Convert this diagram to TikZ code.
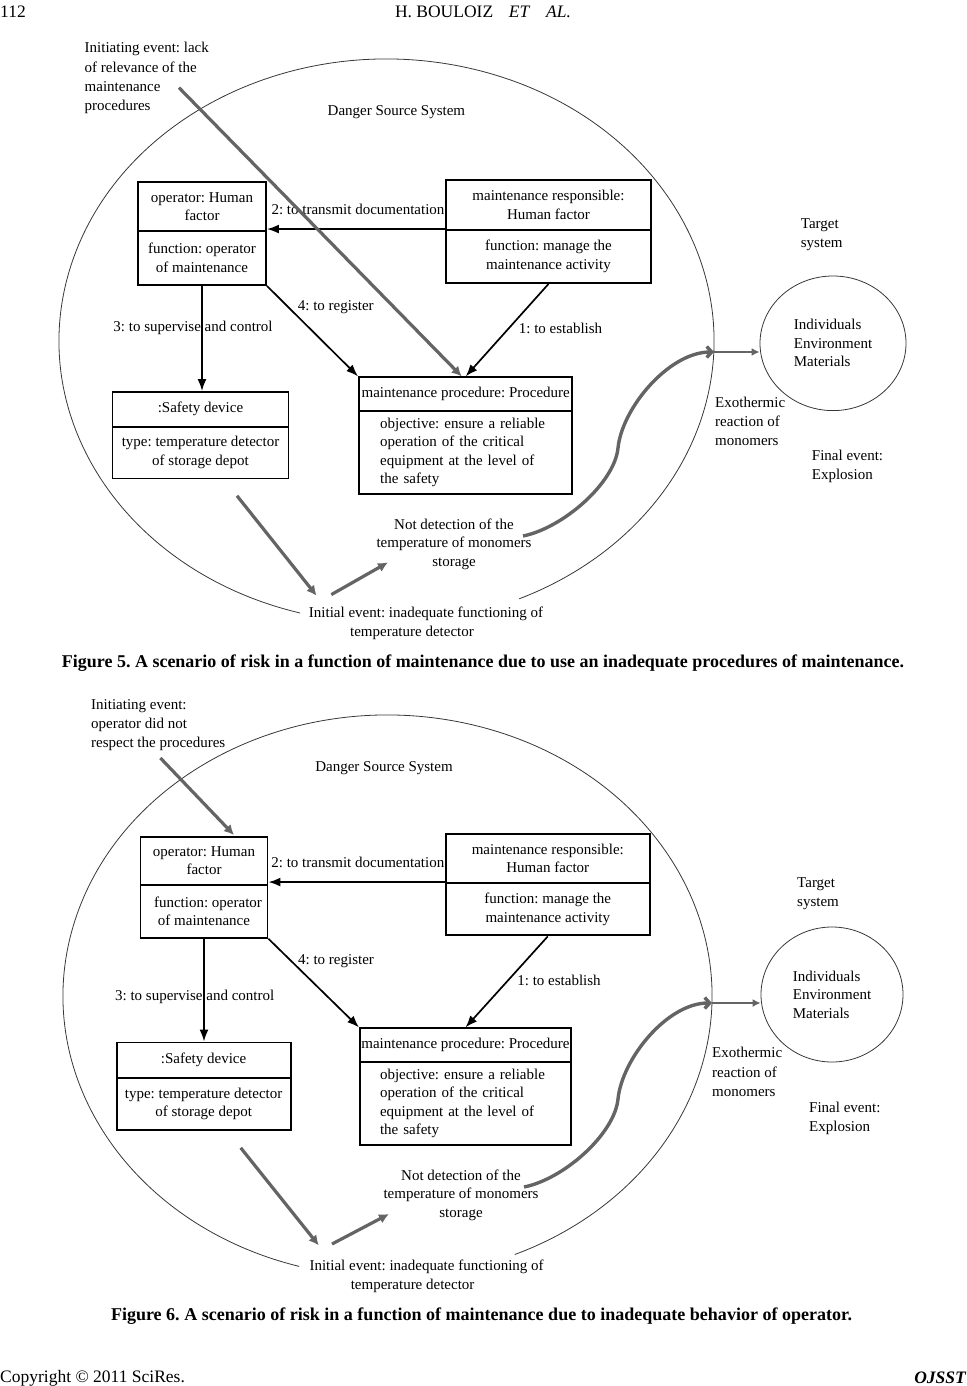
\documentclass[tikz,border=0pt]{standalone}
\usepackage{fontspec}
\usepackage{graphicx}
\setmainfont{Liberation Serif}
\usetikzlibrary{arrows.meta,shapes.geometric}
\definecolor{arrgray}{RGB}{100,100,100}
\definecolor{ellgray}{RGB}{55,55,55}
\newcommand\fsz{\fontsize{15}{18.5}\selectfont}
\newcommand\fszi{\fontsize{15}{19.2}\selectfont}
\newcommand\fszh{\fontsize{17.5}{20}\selectfont}
\frenchspacing
\begin{document}
\frenchspacing
\begin{tikzpicture}[x=1pt,y=-1pt,
  box/.style={draw, line width=1.9pt, inner sep=0pt, align=center, font=\fsz},
  lab/.style={inner sep=0pt, font=\fsz, text height=10pt, text depth=3pt},
  mtxt/.style={inner sep=0pt, font=\fszi, align=left, anchor=west},
  ctxt/.style={inner sep=0pt, font=\fsz, align=center},
  blk/.style={line width=1.7pt, -{Latex[length=12pt,width=9pt]}},
  gry/.style={draw=arrgray, line width=3.2pt, -{Latex[length=10pt,width=10pt]}},
  gryc/.style={draw=arrgray, line width=3.4pt, -{Straight Barb[length=5pt,width=11pt]}},
  gryt/.style={draw=arrgray, line width=2.6pt, -{Latex[length=8pt,width=8pt]}},
  ell/.style={draw=ellgray, line width=0.8pt},
  hdr/.style={inner sep=0pt, font=\fszh}]
\useasboundingbox (0,0) rectangle (966,1386);

% ---------------- header ----------------
\node[hdr, anchor=west] (pgno) at (0,12) {112};
\node[hdr] (head) at (483,12) {H. BOULOIZ\hspace{0.9em}\textit{ET}\hspace{0.9em}\textit{AL.}};

% ================= FIGURE 5 =================
\coordinate (ell5c) at (386.5,341);
\draw[ell] (ell5c) ++(105.3:327.5 and 282) arc[start angle=105.3, end angle=426.1, x radius=327.5, y radius=282];

\node[mtxt] (init5) at (84.5,78) {Initiating event: lack\\of relevance of the\\maintenance\\procedures};
\node[lab] (dss5) at (396.4,112) {Danger Source System};

\node[box, minimum width=128pt, minimum height=49pt] (op5a) at (202,206.5) {operator: Human\\factor};
\node[box, minimum width=128pt, minimum height=54pt] (op5b) at (202,258) {function: operator\\of maintenance};
\node[box, minimum width=205pt, minimum height=50pt] (resp5a) at (548.5,205) {maintenance responsible:\\Human factor};
\node[box, minimum width=205pt, minimum height=53pt] (resp5b) at (548.5,256.5) {function: manage the\\maintenance activity};
\node[box, minimum width=176pt, minimum height=34.6pt] (safe5a) at (200.5,409.3) {:Safety device};
\node[box, minimum width=176pt, minimum height=52pt] (safe5b) at (200.5,452.5) {type: temperature detector\\of storage depot};
\node[box, minimum width=213.4pt, minimum height=33.3pt] (proc5a) at (465.7,394) {maintenance procedure: Procedure};
\node[box, minimum width=213.4pt, minimum height=83.3pt, text width=171pt, align=left] (proc5b) at (465.7,452.4) {objective: ensure a reliable\\operation of the critical\\equipment at the level of\\the safety};

\node[lab] (l2s5) at (358,211) {2: to transmit documentation};
\node[lab] (l4s5) at (335.8,307) {4: to register};
\node[lab] (l3s5) at (193,328) {3: to supervise and control};
\node[lab] (l1s5) at (560.5,330.4) {1: to establish};

\draw[blk] (resp5b.north west) -- (resp5b.north west -| op5b.east);
\draw[blk] (op5b.south) -- (op5b.south |- safe5a.north);
\draw[blk] (op5b.south east) -- (proc5a.north west);
\draw[blk] (resp5b.south) -- (proc5a.north);

\coordinate (i5s) at (179,87.7);
\draw[gry] (i5s) -- ([xshift=-4pt]proc5a.north);

\node[ctxt] (nd5) at (454,544) {Not detection of the\\temperature of monomers\\storage};
\node[ctxt] (ie5) at (426,623.5) {Initial event: inadequate functioning of\\temperature detector\hspace*{28pt}};
\coordinate (g5a) at (237,495.8);
\coordinate (g5b) at (316.6,595.7);
\coordinate (g5c) at (331.3,594.6);
\coordinate (g5d) at (388,562.4);
\draw[gry] (g5a) -- (g5b);
\draw[gry] (g5c) -- (g5d);

\node[ell, ellipse, minimum width=146pt, minimum height=134.6pt, inner sep=0pt, align=left, font=\fsz] (tg5) at (833,343.3) {Individuals\\Environment\\Materials};
\node[mtxt] (ts5) at (800.7,235) {Target\\system};
\node[mtxt] (ex5) at (715,421.3) {Exothermic\\reaction of\\monomers};
\node[mtxt] (fe5) at (811.7,466.3) {Final event:\\Explosion};

\coordinate (c5s) at (523,536);
\coordinate (e5r) at (714,352);
\draw[gryc] (c5s) .. controls (563,528) and (614.5,483) .. (618,448) .. controls (622,408) and (669,352) .. (e5r);
\draw[gryt] (e5r) -- (tg5.west |- e5r);

\node[inner sep=0pt] (cap5) at (483,663) {\resizebox{842pt}{!}{\fontsize{17}{20}\selectfont\bfseries Figure 5. A scenario of risk in a function of maintenance due to use an inadequate procedures of maintenance.}};

% ================= FIGURE 6 =================
\coordinate (ell6c) at (387.5,996);
\draw[ell] (ell6c) ++(105.8:324.5 and 281) arc[start angle=105.8, end angle=426.9, x radius=324.5, y radius=281];

\node[mtxt] (init6) at (91,725) {Initiating event:\\operator did not\\respect the procedures};
\node[lab] (dss6) at (384,768) {Danger Source System};

\node[box, minimum width=127pt, minimum height=48pt] (op6a) at (204,860.7) {operator: Human\\factor};
\node[box, minimum width=127pt, minimum height=53pt] (op6b) at (204,911.3) {\hspace*{8pt}function: operator\\of maintenance};
\node[box, minimum width=203.6pt, minimum height=49pt] (resp6a) at (547.8,858.5) {maintenance responsible:\\Human factor};
\node[box, minimum width=203.6pt, minimum height=52.4pt] (resp6b) at (547.8,909.2) {function: manage the\\maintenance activity};
\node[box, minimum width=174pt, minimum height=35.5pt] (safe6a) at (203.6,1060.2) {:Safety device};
\node[box, minimum width=174pt, minimum height=51.8pt] (safe6b) at (203.6,1103.9) {type: temperature detector\\of storage depot};
\node[box, minimum width=211pt, minimum height=33.6pt] (proc6a) at (465.5,1045.2) {maintenance procedure: Procedure};
\node[box, minimum width=211pt, minimum height=83pt, text width=171pt, align=left] (proc6b) at (465.5,1103.5) {objective: ensure a reliable\\operation of the critical\\equipment at the level of\\the safety};

\node[lab] (l2s6) at (357.8,863.8) {2: to transmit documentation};
\node[lab] (l4s6) at (336,961.4) {4: to register};
\node[lab] (l3s6) at (194.7,996.6) {3: to supervise and control};
\node[lab] (l1s6) at (559,982.4) {1: to establish};

\draw[blk] (resp6b.north west) -- (resp6b.north west -| op6b.east);
\draw[blk] (op6b.south) -- (op6b.south |- safe6a.north);
\draw[blk] (op6b.south east) -- (proc6a.north west);
\draw[blk] (resp6b.south) -- (proc6a.north);

\coordinate (i6s) at (160.4,758);
\coordinate (i6e) at (234,835);
\draw[gry] (i6s) -- (i6e);

\node[ctxt] (nd6) at (461,1195) {Not detection of the\\temperature of monomers\\storage};
\node[ctxt] (ie6) at (426.6,1276.5) {Initial event: inadequate functioning of\\temperature detector\hspace*{28pt}};
\coordinate (g6a) at (240.7,1147.8);
\coordinate (g6b) at (318.8,1245.4);
\coordinate (g6c) at (332,1244);
\coordinate (g6d) at (389,1214);
\draw[gry] (g6a) -- (g6b);
\draw[gry] (g6c) -- (g6d);

\node[ell, ellipse, minimum width=142pt, minimum height=135pt, inner sep=0pt, align=left, font=\fsz] (tg6) at (832,994.5) {Individuals\\Environment\\Materials};
\node[mtxt] (ts6) at (797,893.5) {Target\\system};
\node[mtxt] (ex6) at (712,1072) {Exothermic\\reaction of\\monomers};
\node[mtxt] (fe6) at (809,1118) {Final event:\\Explosion};

\coordinate (c6s) at (524,1187);
\coordinate (e6r) at (712,1003);
\draw[gryc] (c6s) .. controls (564,1179) and (614.5,1134) .. (618,1099) .. controls (622,1059) and (667,1003) .. (e6r);
\draw[gryt] (e6r) -- (tg6.west |- e6r);

\node[inner sep=0pt] (cap6) at (481.5,1316) {\resizebox{741pt}{!}{\fontsize{17}{20}\selectfont\bfseries Figure 6. A scenario of risk in a function of maintenance due to inadequate behavior of operator.}};

% ---------------- footer ----------------
\node[hdr, anchor=west] (copy) at (0,1378) {Copyright © 2011 SciRes.};
\node[hdr, anchor=east] (jour) at (966,1378) {\bfseries\itshape OJSST};
\end{tikzpicture}
\end{document}
